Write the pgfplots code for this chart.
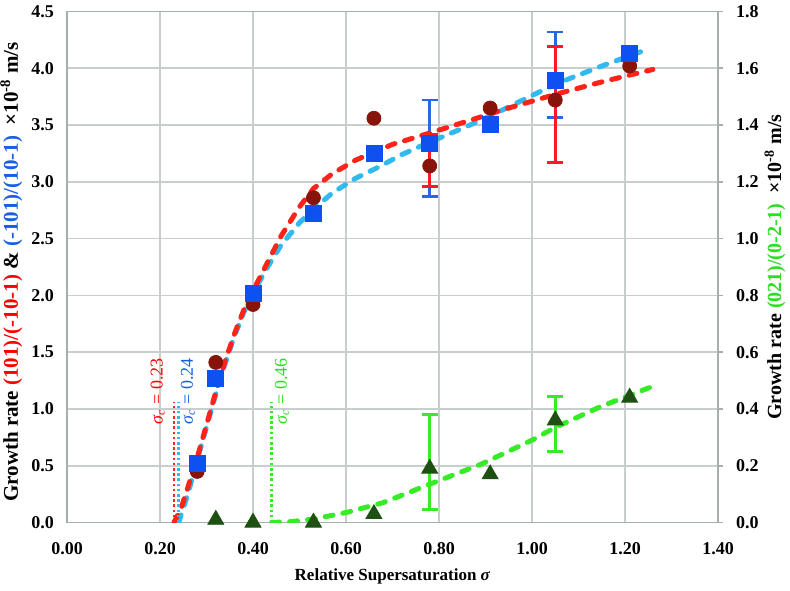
\documentclass[border=0pt]{standalone}
\usepackage{fontspec}
\setmainfont{Liberation Serif}
\usepackage{pgfplots}
\pgfplotsset{compat=1.18}

\definecolor{gridgray}{RGB}{200,205,205}
\definecolor{axgray}{RGB}{165,175,175}
\definecolor{fitred}{RGB}{255,35,25}
\definecolor{fitcyan}{RGB}{50,185,240}
\definecolor{fitgreen}{RGB}{55,235,40}
\definecolor{ptred}{RGB}{135,20,10}
\definecolor{ptblue}{RGB}{15,80,240}
\definecolor{ptgreen}{RGB}{30,80,20}
\definecolor{barred}{RGB}{255,25,40}
\definecolor{barblue}{RGB}{40,105,225}
\definecolor{txtred}{RGB}{255,0,0}
\definecolor{txtblue}{RGB}{25,95,230}
\definecolor{txtgreen}{RGB}{40,225,30}

\pgfplotsset{
  base/.style={
    scale only axis, width=325.5pt, height=255.5pt,
    xmin=0, xmax=1.4,
    at={(0,0)}, anchor=south west,
    /pgf/number format/assume math mode=true,
    ticklabel style={font=\fontsize{9}{10}\selectfont\bfseries},
    label style={font=\fontsize{8.5}{10}\selectfont\bfseries},
    axis line style={axgray, line width=0.8pt},
  },
  fit/.style={line width=2.5pt, line cap=round, dash pattern=on 4pt off 5pt, mark=none},
  sigline/.style={line width=1.3pt, dash pattern=on 1.3pt off 1.3pt, mark=none},
  ebar/.style={only marks, mark=none, forget plot,
    error bars/.cd, y dir=both, y explicit,
    error bar style={line width=1.4pt, color=#1},
    error mark options={rotate=90, mark size=4pt, line width=1.4pt, color=#1}},
}

% fitted growth curves
\pgfplotstableread{
x y
0.230 0.00
0.245 0.12
0.260 0.31
0.280 0.57
0.300 0.86
0.320 1.15
0.340 1.42
0.360 1.66
0.380 1.87
0.400 2.04
0.430 2.28
0.460 2.52
0.500 2.78
0.530 2.94
0.570 3.07
0.620 3.19
0.700 3.33
0.780 3.43
0.850 3.52
0.950 3.65
1.050 3.77
1.150 3.88
1.260 3.99
}\fitA

\pgfplotstableread{
x y
0.240 0.00
0.260 0.25
0.280 0.55
0.300 0.84
0.320 1.13
0.340 1.40
0.360 1.64
0.380 1.85
0.400 2.02
0.430 2.24
0.460 2.44
0.500 2.64
0.530 2.76
0.570 2.90
0.620 3.03
0.670 3.13
0.720 3.24
0.780 3.35
0.850 3.47
0.910 3.58
0.980 3.72
1.050 3.86
1.150 4.02
1.250 4.17
}\fitB

\pgfplotstableread{
x y
0.440 0.000
0.480 0.003
0.530 0.012
0.600 0.035
0.680 0.070
0.780 0.135
0.890 0.205
1.000 0.290
1.050 0.335
1.150 0.410
1.260 0.480
}\fitC

\begin{document}
\begin{tikzpicture}
\begin{axis}[base,
  ymin=0, ymax=4.5,
  xtick={0,0.2,0.4,0.6,0.8,1,1.2,1.4},
  ytick={0,0.5,1,1.5,2,2.5,3,3.5,4,4.5},
  grid=major, grid style={gridgray, line width=0.8pt},
  major tick length=0pt,
  xticklabel style={/pgf/number format/fixed, /pgf/number format/fixed zerofill, /pgf/number format/precision=2, anchor=center, yshift=-13pt},
  yticklabel style={/pgf/number format/fixed, /pgf/number format/fixed zerofill, /pgf/number format/precision=1, anchor=east, xshift=-3pt},
  xlabel={Relative Supersaturation \textit{σ}},
  xlabel style={at={(axis description cs:0.5,-0.105)}, anchor=center},
  ylabel={Growth rate \textcolor{txtred}{(101)/(-10-1)} \& \textcolor{txtblue}{(-101)/(10-1)}\ \ ×10\textsuperscript{-8} m/s},
  ylabel style={at={(axis description cs:-0.0855,0.49)}, anchor=center, font=\fontsize{10.5}{12}\selectfont\bfseries},
]
% error bars
\addplot[ebar=barblue] coordinates {
  (0.78,3.34) += (0,0.38) -= (0,0.47)
  (1.05,3.89) += (0,0.43) -= (0,0.32)};
\addplot[ebar=barred] coordinates {
  (0.78,3.14) += (0,0.28) -= (0,0.18)
  (1.05,3.72) += (0,0.47) -= (0,0.55)};
% fits
\addplot[fit, fitcyan] table {\fitB};
\addplot[fit, fitred] table {\fitA};
% critical supersaturation markers
\addplot[sigline, fitred] coordinates {(0.23,0) (0.23,1.06)};
\addplot[sigline, fitcyan] coordinates {(0.24,0) (0.24,1.06)};
\addplot[sigline, fitgreen] coordinates {(0.44,0) (0.44,1.06)};
% measured points
\addplot[only marks, mark=*, mark size=3.5pt, mark options={fill=ptred, draw=ptred}] coordinates {
  (0.28,0.45) (0.32,1.41) (0.40,1.92) (0.53,2.86) (0.66,3.56)
  (0.78,3.14) (0.91,3.65) (1.05,3.72) (1.21,4.02)};
\addplot[only marks, mark=square*, mark size=4pt, mark options={fill=ptblue, draw=ptblue}] coordinates {
  (0.28,0.52) (0.32,1.27) (0.40,2.02) (0.53,2.72) (0.66,3.25)
  (0.78,3.34) (0.91,3.51) (1.05,3.89) (1.21,4.13)};
\node[rotate=90, anchor=west, text=txtred, font=\fontsize{9}{10}\selectfont, inner sep=0pt] at (axis cs:0.195,0.86) {\textit{σ}\textsubscript{\textit{c}} = 0.23};
\node[rotate=90, anchor=west, text=txtblue, font=\fontsize{9}{10}\selectfont, inner sep=0pt] at (axis cs:0.260,0.86) {\textit{σ}\textsubscript{\textit{c}} = 0.24};
\node[rotate=90, anchor=west, text=txtgreen, font=\fontsize{9}{10}\selectfont, inner sep=0pt] at (axis cs:0.462,0.86) {\textit{σ}\textsubscript{\textit{c}} = 0.46};
\end{axis}

\begin{axis}[base,
  ymin=0, ymax=1.8,
  ytick={0,0.2,0.4,0.6,0.8,1,1.2,1.4,1.6,1.8},
  axis y line*=right, axis x line=none,
  tick align=outside, major tick length=2.5pt,
  ytick style={axgray, line width=0.8pt},
  yticklabel style={/pgf/number format/fixed, /pgf/number format/fixed zerofill, /pgf/number format/precision=1, anchor=west, xshift=3pt},
  ylabel={Growth rate \textcolor{txtgreen}{(021)/(0-2-1)}\ \ ×10\textsuperscript{-8} m/s},
  ylabel style={at={(axis description cs:1.0876,0.5)}, anchor=center, rotate=0, font=\fontsize{10}{12}\selectfont\bfseries},
]
\addplot[ebar=fitgreen] coordinates {
  (0.78,0.19) += (0,0.19) -= (0,0.145)
  (1.05,0.36) += (0,0.085) -= (0,0.11)};
\addplot[fit, fitgreen] table {\fitC};
\addplot[only marks, mark=triangle*, mark size=4.6pt, mark options={fill=ptgreen, draw=ptgreen}] coordinates {
  (0.32,0.01) (0.40,0.00) (0.53,0.00) (0.66,0.03)
  (0.78,0.19) (0.91,0.17) (1.05,0.36) (1.21,0.44)};
\end{axis}
\pgfresetboundingbox
\path (-33.5pt,-33.75pt) rectangle (361.5pt,261.25pt);
\end{tikzpicture}
\end{document}
